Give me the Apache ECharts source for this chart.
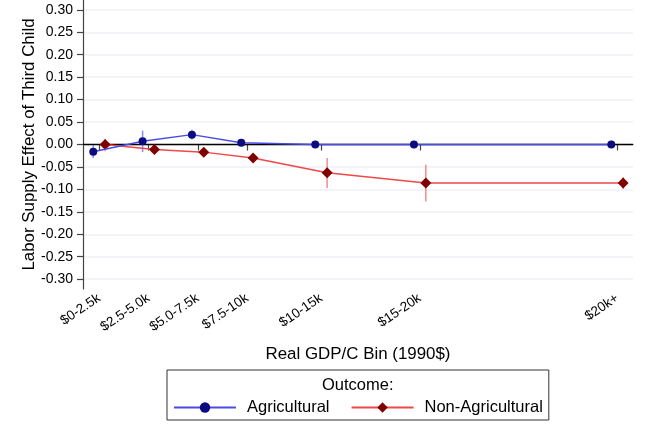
<!DOCTYPE html>
<html>
<head>
<meta charset="utf-8">
<script src="https://cdn.jsdelivr.net/npm/echarts@6/dist/echarts.min.js"></script>
<style>
html,body{margin:0;padding:0;background:#fff;}
#chart{width:650px;height:432px;}
</style>
</head>
<body>
<div id="chart"></div>
<script>
// ---- data ----
const binLabels = ['$0-2.5k', '$2.5-5.0k', '$5.0-7.5k', '$7.5-10k', '$10-15k', '$15-20k', '$20k+'];
const binMid = [1.25, 3.75, 6.25, 8.75, 12.5, 17.5, 27.5];
const agri   = [-0.016, 0.007, 0.022, 0.004, 0.000, 0.000, 0.000];
const agriLo = [-0.030, -0.017, 0.011, 0.001, -0.001, -0.001, -0.001];
const agriHi = [-0.001, 0.031, 0.033, 0.007, 0.001, 0.001, 0.001];
const nonag   = [0.000, -0.011, -0.017, -0.030, -0.063, -0.086, -0.086];
const nonagLo = [-0.015, -0.016, -0.023, -0.039, -0.097, -0.127, -0.099];
const nonagHi = [0.013, -0.006, -0.011, -0.021, -0.030, -0.045, -0.073];
const yTicks = [-0.30, -0.25, -0.20, -0.15, -0.10, -0.05, 0.00, 0.05, 0.10, 0.15, 0.20, 0.25, 0.30];

const DODGE = 0.3;
const FONT = "'Liberation Sans', Arial, sans-serif";

const agriPts = binMid.map((x, i) => [x - DODGE, agri[i]]);
const nonagPts = binMid.map((x, i) => [x + DODGE, nonag[i]]);
const agriCI = binMid.map((x, i) => [x - DODGE, agriLo[i], agriHi[i]]);
const nonagCI = binMid.map((x, i) => [x + DODGE, nonagLo[i], nonagHi[i]]);

function ciRender(color) {
  return function (params, api) {
    const x = api.value(0);
    const p1 = api.coord([x, api.value(1)]);
    const p2 = api.coord([x, api.value(2)]);
    return {
      type: 'line',
      shape: { x1: p1[0], y1: p1[1], x2: p2[0], y2: p2[1] },
      style: { stroke: color, lineWidth: 1.5 }
    };
  };
}

const chart = echarts.init(document.getElementById('chart'), null, { renderer: 'canvas' });
chart.setOption({
  animation: false,
  backgroundColor: '#fff',
  textStyle: { fontFamily: FONT },
  title: {
    text: 'Outcome:',
    left: 322,
    top: 377,
    padding: 0,
    textStyle: { fontFamily: FONT, fontSize: 16.5, fontWeight: 'normal', color: '#000' }
  },
  legend: {
    data: ['Agricultural', 'Non-Agricultural'],
    left: 167,
    top: 370,
    padding: [29, 6, 4, 6],
    itemGap: 21,
    itemWidth: 62,
    itemHeight: 13,
    borderColor: '#333',
    borderWidth: 1,
    borderRadius: 0,
    textStyle: { fontFamily: FONT, fontSize: 16.5, color: '#000', padding: [0, 0, 0, 6] }
  },
  grid: { left: 83, right: 17, top: 0, bottom: 143, containLabel: false },
  xAxis: {
    type: 'value',
    min: 0.43,
    max: 28.3,
    name: 'Real GDP/C Bin (1990$)',
    nameLocation: 'middle',
    nameGap: 57,
    nameMoveOverlap: false,
    nameTextStyle: { fontFamily: FONT, fontSize: 16.9, color: '#000' },
    axisLine: { show: true, lineStyle: { color: '#444', width: 1.2 } },
    axisTick: { show: true, length: 6, customValues: binMid, lineStyle: { color: '#444', width: 1.2 } },
    axisLabel: {
      customValues: binMid,
      rotate: 34,
      margin: 8,
      fontFamily: FONT,
      fontSize: 13.5,
      color: '#000',
      formatter: function (v) {
        const i = binMid.findIndex(m => Math.abs(m - v) < 1e-6);
        return i >= 0 ? binLabels[i] : '';
      }
    },
    splitLine: { show: false }
  },
  yAxis: {
    type: 'value',
    min: -0.322,
    max: 0.322,
    name: 'Labor Supply Effect of Third Child',
    nameLocation: 'middle',
    nameGap: 45,
    nameMoveOverlap: false,
    nameTextStyle: { fontFamily: FONT, fontSize: 16.9, color: '#000' },
    axisLine: { show: true, lineStyle: { color: '#444', width: 1.2 } },
    axisTick: { show: true, length: 6, customValues: yTicks, lineStyle: { color: '#444', width: 1.2 } },
    axisLabel: {
      customValues: yTicks,
      margin: 10,
      fontFamily: FONT,
      fontSize: 14,
      color: '#000',
      formatter: v => v.toFixed(2)
    },
    splitLine: { show: true, lineStyle: { color: '#eef1f4', width: 1.5 } }
  },
  series: [
    {
      name: 'zero',
      type: 'line',
      data: [],
      z: 1,
      silent: true,
      markLine: {
        silent: true,
        symbol: 'none',
        label: { show: false },
        lineStyle: { color: '#000', type: 'solid', width: 1.3 },
        data: [{ yAxis: 0 }]
      }
    },
    {
      name: 'agriCI',
      type: 'custom',
      renderItem: ciRender('rgba(100,100,255,0.75)'),
      data: agriCI,
      encode: { x: 0, y: [1, 2] },
      z: 6,
      silent: true
    },
    {
      name: 'nonagCI',
      type: 'custom',
      renderItem: ciRender('rgba(240,110,110,0.8)'),
      data: nonagCI,
      encode: { x: 0, y: [1, 2] },
      z: 6,
      silent: true
    },
    {
      name: 'Agricultural',
      type: 'line',
      data: agriPts,
      z: 8,
      symbol: 'circle',
      symbolSize: 8,
      lineStyle: { color: '#4a4ae6', width: 1.5 },
      itemStyle: { color: '#0c0c80' },
      color: '#4a4ae6'
    },
    {
      name: 'Non-Agricultural',
      type: 'line',
      data: nonagPts,
      z: 7,
      symbol: 'diamond',
      symbolSize: 11,
      lineStyle: { color: '#ee4848', width: 1.5 },
      itemStyle: { color: '#800000' },
      color: '#ee4848'
    }
  ]
});
</script>
</body>
</html>
